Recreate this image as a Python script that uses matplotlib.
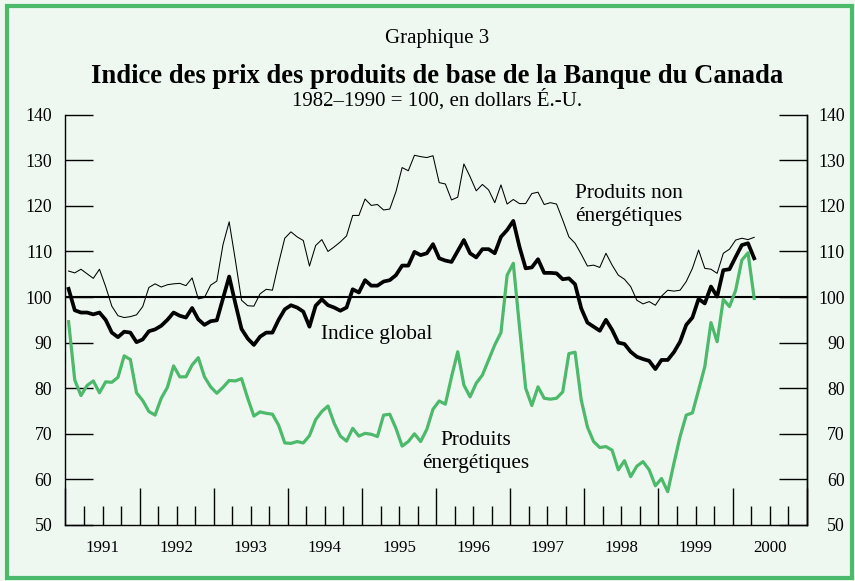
import numpy as np
import matplotlib
matplotlib.use("Agg")
import matplotlib.pyplot as plt
from matplotlib.patches import Rectangle

plt.rcParams['font.family'] = ['Liberation Serif', 'DejaVu Serif']

# donnees mensuelles, janvier 1991 a avril 2000 (1982-1990 = 100)
premiere_annee = 1991
derniere_annee = 2000

non_energie = [
	105.7, 105.3, 106.1, 105.1, 104.1, 106.1, 102.3, 98.0, 95.9, 95.5, 95.7, 96.1,
	97.9, 102.1, 102.9, 102.2, 102.7, 102.9, 103.0, 102.5, 104.2, 99.6, 99.9, 102.6,
	103.5, 111.5, 116.5, 108.1, 99.3, 98.1, 98.0, 100.7, 101.7, 101.5, 107.4, 112.9,
	114.3, 113.2, 112.4, 106.8, 111.3, 112.6, 110.0, 111.0, 112.1, 113.4, 117.9, 117.9,
	121.5, 120.1, 120.3, 119.1, 119.3, 123.1, 128.4, 127.7, 131.1, 130.8, 130.6, 131.0,
	125.1, 124.8, 121.3, 121.9, 129.2, 126.4, 123.3, 124.7, 123.5, 120.7, 124.6, 120.4,
	121.4, 120.5, 120.5, 122.7, 123.0, 120.3, 120.7, 120.4, 116.9, 113.2, 111.8, 109.4,
	106.8, 107.0, 106.5, 109.6, 107.0, 104.8, 103.9, 102.3, 99.3, 98.5, 99.0, 98.2,
	100.2, 101.5, 101.3, 101.5, 103.4, 106.3, 110.3, 106.3, 106.1, 105.2, 109.6, 110.5,
	112.5, 112.9, 112.6, 113.1,
]

indice_global = [
	101.8, 97.1, 96.6, 96.6, 96.2, 96.6, 95.0, 92.2, 91.2, 92.4, 92.2, 90.1,
	90.7, 92.5, 92.9, 93.7, 95.0, 96.6, 95.9, 95.5, 97.6, 95.1, 93.9, 94.7,
	94.9, 99.7, 104.5, 98.6, 93.0, 90.9, 89.5, 91.3, 92.2, 92.2, 95.0, 97.3,
	98.2, 97.7, 96.8, 93.5, 98.1, 99.5, 98.2, 97.7, 97.0, 97.7, 101.7, 101.0,
	103.7, 102.5, 102.5, 103.4, 103.7, 104.8, 106.9, 106.9, 109.9, 109.2, 109.6, 111.6,
	108.5, 108.0, 107.7, 110.1, 112.5, 109.6, 108.7, 110.5, 110.5, 109.6, 113.2, 114.7,
	116.7, 111.0, 106.3, 106.5, 108.3, 105.3, 105.3, 105.2, 103.9, 104.1, 102.8, 97.5,
	94.4, 93.5, 92.6, 95.0, 92.8, 90.0, 89.7, 88.0, 86.9, 86.4, 86.0, 84.2,
	86.2, 86.2, 87.9, 90.2, 93.9, 95.5, 99.6, 98.6, 102.3, 100.1, 105.9, 106.1,
	108.8, 111.4, 111.8, 108.5,
]

energie = [
	94.6, 81.8, 78.4, 80.6, 81.6, 79.0, 81.4, 81.3, 82.4, 87.1, 86.3, 79.0,
	77.3, 74.9, 74.1, 77.8, 80.2, 84.9, 82.5, 82.5, 85.1, 86.7, 82.5, 80.3,
	78.9, 80.2, 81.7, 81.6, 82.1, 77.8, 73.9, 74.8, 74.5, 74.3, 71.9, 68.0,
	67.9, 68.3, 68.0, 69.6, 73.1, 74.9, 76.1, 72.3, 69.5, 68.4, 71.2, 69.5,
	70.1, 69.9, 69.4, 74.1, 74.3, 71.2, 67.3, 68.3, 70.0, 68.3, 71.0, 75.4,
	77.2, 76.5, 82.5, 88.0, 80.7, 78.1, 81.1, 82.9, 86.2, 89.5, 92.2, 104.8,
	107.4, 93.5, 80.0, 76.2, 80.3, 77.8, 77.6, 77.8, 79.2, 87.6, 87.9, 77.4,
	71.5, 68.3, 67.0, 67.2, 66.4, 62.1, 64.1, 60.6, 62.9, 63.9, 62.1, 58.6,
	60.2, 57.3, 63.5, 69.4, 74.1, 74.6, 79.6, 84.7, 94.4, 90.2, 99.5, 97.9,
	101.5, 108.1, 109.7, 99.7,
]

annees = [str(a) for a in range(premiere_annee, derniere_annee + 1)]
y_graduations = list(range(50, 150, 10))

fond = '#eef8f1'
vert = '#4cb96b'

n = len(indice_global)
mois = premiere_annee + (np.arange(n) + 0.5) / 12.0

fig = plt.figure(figsize=(8.55, 5.81), dpi=100, facecolor=fond)
ax = fig.add_axes([0.0766, 0.0964, 0.8669, 0.7062])
ax.set_facecolor(fond)

ax.axhline(100, color='black', lw=1.5, zorder=2)
ax.plot(mois, non_energie, color='black', lw=0.75, zorder=3)
ax.plot(mois, energie, color=vert, lw=2.3, zorder=3)
ax.plot(mois, indice_global, color='black', lw=2.7, zorder=4)

ax.set_xlim(premiere_annee, derniere_annee + 1)
ax.set_ylim(50, 140)

ax.spines['top'].set_visible(False)
for c in ['left', 'right', 'bottom']:
	ax.spines[c].set_linewidth(1.0)

# graduations : annees (longues), trimestres (courtes)
ax.set_xticks(np.arange(premiere_annee, derniere_annee + 2))
ax.set_xticks(np.arange(premiere_annee, derniere_annee + 1, 0.25), minor=True)
ax.tick_params(axis='x', which='major', direction='in', length=27, width=1, labelbottom=False)
ax.tick_params(axis='x', which='minor', direction='in', length=13.5, width=1)
for i, a in enumerate(annees):
	ax.text(premiere_annee + i + 0.5, -0.056, a, transform=ax.get_xaxis_transform(),
		ha='center', va='center', fontsize=12.2)

ax.set_yticks(y_graduations)
ax.tick_params(axis='y', which='major', direction='in', length=20.5, width=1,
	labelsize=12.8, pad=9.5)

ax2 = ax.twinx()
ax2.set_ylim(ax.get_ylim())
ax2.set_yticks(y_graduations)
ax2.tick_params(axis='y', direction='in', length=20.5, width=1, labelsize=12.8, pad=27.5)
for t in ax2.get_yticklabels():
	t.set_horizontalalignment('right')
for c in ['top', 'left', 'bottom']:
	ax2.spines[c].set_visible(False)
ax2.spines['right'].set_linewidth(1.0)

ax.text(1997.87, 120.2, 'Produits non\nénergétiques', ha='left', va='center',
	fontsize=15.3, linespacing=1.32)
ax.text(1995.2, 91.8, 'Indice global', ha='center', va='center', fontsize=15.3)
ax.text(1996.54, 66.0, 'Produits\nénergétiques', ha='center', va='center',
	fontsize=15.3, linespacing=1.32)

fig.text(0.511, 0.934, 'Graphique 3', ha='center', va='center', fontsize=15)
fig.text(0.511, 0.869, 'Indice des prix des produits de base de la Banque du Canada',
	ha='center', va='center', fontsize=19.2, fontweight='bold')
fig.text(0.511, 0.828, '1982–1990 = 100, en dollars É.-U.', ha='center', va='center',
	fontsize=15)

fig.patches.append(Rectangle((0.008, 0.006), 0.988, 0.984, transform=fig.transFigure,
	fill=False, edgecolor=vert, lw=3))

fig.savefig('out.png', dpi=100, facecolor=fond)
